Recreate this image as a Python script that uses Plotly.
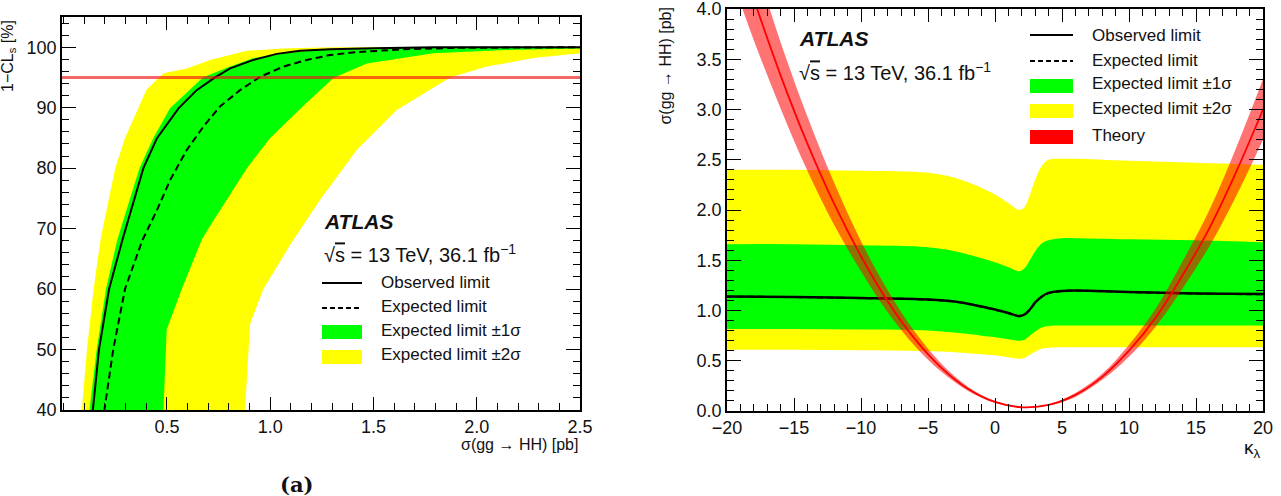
import plotly.graph_objects as go

W, H = 1281, 496
FONT = "Liberation Sans, Arial, Helvetica, sans-serif"

# ---------------- Panel (a): 1-CLs [%] versus sigma(gg->HH) [pb] ----------------
SIGMA_OBS = [0.10, 0.141, 0.171, 0.22, 0.285, 0.386, 0.451, 0.556, 0.644, 0.733, 0.806,
             0.919, 1.032, 1.145, 1.29, 1.5, 1.8, 2.5]
CLS_OBS = [26, 40, 50, 60, 68.2, 80, 84.9, 89.9, 92.9, 95.0, 96.5,
           97.9, 98.9, 99.4, 99.65, 99.85, 100, 100]

SIGMA_EXP = [0.15, 0.197, 0.24, 0.297, 0.38, 0.451, 0.515, 0.596, 0.677, 0.757, 0.854,
             0.951, 1.064, 1.177, 1.29, 1.387, 1.63, 1.9, 2.2, 2.5]
CLS_EXP = [29, 40, 50, 60, 68, 73, 78, 83, 86.9, 90.2, 92.9,
           95.1, 96.8, 97.9, 98.7, 99.1, 99.65, 99.9, 100, 100]

SIGMA_P1 = [0.06, 0.125, 0.16, 0.205, 0.26, 0.367, 0.434, 0.515, 0.674, 0.79, 0.919,
            1.064, 1.29, 1.6, 2.0, 2.5]
CLS_P1 = [10, 40, 50, 60, 68.2, 80, 85, 89.9, 95, 96.6, 98.2,
          99.0, 99.7, 99.95, 100, 100]

SIGMA_M1 = [0.46, 0.483, 0.499, 0.572, 0.669, 0.701, 0.887, 1.0, 1.17, 1.306, 1.468,
            1.79, 2.113, 2.5]
CLS_M1 = [21, 40, 53.3, 60, 68.2, 70, 80, 85, 90.6, 94.9, 97.3,
          99.0, 99.5, 99.8]

SIGMA_P2 = [0.04, 0.088, 0.113, 0.145, 0.18, 0.25, 0.297, 0.362, 0.402, 0.483, 0.596,
            0.709, 0.887, 1.06, 1.3, 2.5]
CLS_P2 = [10, 40, 50, 60, 68.5, 80, 85, 90, 93, 95.7, 96.5,
          97.9, 99.4, 99.8, 100, 100]

SIGMA_M2 = [0.85, 0.878, 0.903, 0.967, 1.10, 1.24, 1.419, 1.613, 1.871, 2.049, 2.275, 2.5]
CLS_M2 = [24, 40, 54.3, 60, 67.5, 74.7, 83.0, 89.6, 95.0, 96.8, 98.2, 99.0]

CL_LEVEL = 95
A_XRANGE = [-0.008, 2.5]
A_YRANGE = [40, 105]
A_XTICKS = [0.5, 1.0, 1.5, 2.0, 2.5]
A_XTICKTEXT = ["0.5", "1.0", "1.5", "2.0", "2.5"]
A_YTICKS = [40, 50, 60, 70, 80, 90, 100]

# ---------------- Panel (b): sigma(gg->HH) [pb] versus kappa_lambda ----------------
KAPPA = [-20, -15, -10, -5, -3, -1, 0, 1, 1.8, 2.2, 2.6, 3, 3.5, 4, 5, 6, 10, 15, 20]
LIM_OBS = [1.14, 1.135, 1.125, 1.11, 1.09, 1.04, 1.01, 0.975, 0.945, 0.96, 1.01, 1.08,
           1.14, 1.175, 1.195, 1.20, 1.185, 1.17, 1.163]
LIM_EXP = [1.138, 1.133, 1.123, 1.108, 1.088, 1.038, 1.008, 0.973, 0.943, 0.958, 1.008,
           1.078, 1.138, 1.173, 1.193, 1.198, 1.183, 1.168, 1.161]
LIM_P1 = [1.66, 1.66, 1.65, 1.63, 1.59, 1.52, 1.48, 1.43, 1.39, 1.42, 1.50, 1.59,
          1.67, 1.70, 1.72, 1.72, 1.71, 1.70, 1.68]
LIM_M1 = [0.815, 0.815, 0.81, 0.80, 0.78, 0.75, 0.735, 0.715, 0.70, 0.71, 0.75, 0.79,
          0.83, 0.845, 0.85, 0.85, 0.85, 0.85, 0.85]
LIM_P2 = [2.40, 2.40, 2.39, 2.37, 2.32, 2.22, 2.155, 2.07, 2.00, 2.03, 2.15, 2.30,
          2.44, 2.50, 2.51, 2.51, 2.49, 2.47, 2.45]
LIM_M2 = [0.61, 0.61, 0.605, 0.595, 0.585, 0.565, 0.555, 0.535, 0.52, 0.53, 0.56, 0.59,
          0.62, 0.63, 0.635, 0.635, 0.635, 0.635, 0.635]

KAPPA_TH = [-20, -18, -16, -14, -12, -10, -8, -6, -4, -2, 0, 2, 4, 6, 8, 10, 12, 14, 16, 18, 20]
TH_CENTRAL = [4.93, 4.10, 3.34, 2.66, 2.06, 1.54, 1.09, 0.72, 0.43, 0.22, 0.09, 0.037,
              0.06, 0.16, 0.34, 0.60, 0.93, 1.35, 1.82, 2.38, 3.00]
TH_UP = [5.42, 4.51, 3.67, 2.93, 2.27, 1.69, 1.20, 0.79, 0.47, 0.24, 0.10, 0.041,
         0.066, 0.18, 0.37, 0.66, 1.02, 1.49, 2.00, 2.62, 3.30]
TH_DOWN = [4.44, 3.69, 3.01, 2.39, 1.85, 1.39, 0.98, 0.65, 0.39, 0.20, 0.08, 0.033,
           0.054, 0.14, 0.31, 0.54, 0.84, 1.22, 1.64, 2.14, 2.70]

B_XRANGE = [-20, 20]
B_YRANGE = [0, 4]

GREEN = "#00ff00"
YELLOW = "#ffff00"
RED = "#ff0000"
THEORY_BAND = "rgba(255,0,0,0.55)"

fig = go.Figure()

# ---- panel (a) traces ----
fig.add_trace(go.Scatter(x=SIGMA_P2 + SIGMA_M2[::-1], y=CLS_P2 + CLS_M2[::-1],
                         fill="toself", fillcolor=YELLOW, line=dict(width=0),
                         mode="lines", xaxis="x", yaxis="y", hoverinfo="skip"))
fig.add_trace(go.Scatter(x=SIGMA_P1 + SIGMA_M1[::-1], y=CLS_P1 + CLS_M1[::-1],
                         fill="toself", fillcolor=GREEN, line=dict(width=0),
                         mode="lines", xaxis="x", yaxis="y", hoverinfo="skip"))
fig.add_trace(go.Scatter(x=SIGMA_EXP, y=CLS_EXP, mode="lines",
                         line=dict(color="black", width=2, dash="7px,4px"),
                         xaxis="x", yaxis="y"))
fig.add_trace(go.Scatter(x=SIGMA_OBS, y=CLS_OBS, mode="lines",
                         line=dict(color="black", width=2),
                         xaxis="x", yaxis="y"))
fig.add_trace(go.Scatter(x=A_XRANGE, y=[CL_LEVEL, CL_LEVEL], mode="lines",
                         line=dict(color="rgba(240,20,20,0.65)", width=3),
                         xaxis="x", yaxis="y"))

# ---- panel (b) traces ----
fig.add_trace(go.Scatter(x=KAPPA, y=LIM_M2, mode="lines", line=dict(width=0, shape="spline"),
                         xaxis="x2", yaxis="y2", hoverinfo="skip"))
fig.add_trace(go.Scatter(x=KAPPA, y=LIM_P2, mode="lines", line=dict(width=0, shape="spline"),
                         fill="tonexty", fillcolor=YELLOW, xaxis="x2", yaxis="y2"))
fig.add_trace(go.Scatter(x=KAPPA, y=LIM_M1, mode="lines", line=dict(width=0, shape="spline"),
                         xaxis="x2", yaxis="y2", hoverinfo="skip"))
fig.add_trace(go.Scatter(x=KAPPA, y=LIM_P1, mode="lines", line=dict(width=0, shape="spline"),
                         fill="tonexty", fillcolor=GREEN, xaxis="x2", yaxis="y2"))
fig.add_trace(go.Scatter(x=KAPPA, y=LIM_EXP, mode="lines",
                         line=dict(color="black", width=2, dash="6px,4px", shape="spline"),
                         xaxis="x2", yaxis="y2"))
fig.add_trace(go.Scatter(x=KAPPA, y=LIM_OBS, mode="lines",
                         line=dict(color="black", width=2.5, shape="spline"),
                         xaxis="x2", yaxis="y2"))
fig.add_trace(go.Scatter(x=KAPPA_TH, y=TH_DOWN, mode="lines", line=dict(width=0, shape="spline"),
                         xaxis="x2", yaxis="y2", hoverinfo="skip"))
fig.add_trace(go.Scatter(x=KAPPA_TH, y=TH_UP, mode="lines", line=dict(width=0, shape="spline"),
                         fill="tonexty", fillcolor=THEORY_BAND, xaxis="x2", yaxis="y2"))
fig.add_trace(go.Scatter(x=KAPPA_TH, y=TH_CENTRAL, mode="lines",
                         line=dict(color=RED, width=1.8, shape="spline"),
                         xaxis="x2", yaxis="y2"))


def px_x(x):
    return x / W


def px_y(y):
    return 1 - y / H


axis_common = dict(showline=True, linecolor="black", linewidth=1.5, mirror="ticks",
                   ticks="inside", tickcolor="black", tickwidth=1, showgrid=False,
                   zeroline=False, automargin=False, ticklabeloverflow="allow",
                   tickfont=dict(family=FONT, size=18, color="#111"))

fig.update_layout(
    width=W, height=H, margin=dict(l=0, r=0, t=0, b=0, pad=0), autosize=False,
    paper_bgcolor="white", plot_bgcolor="white", showlegend=False,
    xaxis=dict(domain=[px_x(62), px_x(580)], range=A_XRANGE, anchor="y",
               tickmode="array", tickvals=A_XTICKS, ticktext=A_XTICKTEXT, ticklen=13,
               minor=dict(ticks="inside", ticklen=7, dtick=0.1, tick0=0, tickcolor="black"),
               **axis_common),
    yaxis=dict(domain=[px_y(410), px_y(17)], range=A_YRANGE, anchor="x",
               tickmode="array", tickvals=A_YTICKS, ticklen=14,
               minor=dict(ticks="inside", ticklen=7, dtick=2, tick0=0, tickcolor="black"),
               **axis_common),
    xaxis2=dict(domain=[px_x(727), px_x(1263)], range=B_XRANGE, anchor="y2",
                dtick=5, tick0=0, ticklen=13,
                minor=dict(ticks="inside", ticklen=7, dtick=1, tick0=0, tickcolor="black"),
                **axis_common),
    yaxis2=dict(domain=[px_y(411), px_y(9)], range=B_YRANGE, anchor="x2",
                dtick=0.5, tick0=0, tickformat=".1f", ticklen=14,
                minor=dict(ticks="inside", ticklen=7, dtick=0.1, tick0=0, tickcolor="black"),
                **axis_common),
)

annotations = []
shapes = []


def text(t, x, y, size, xanchor="left", yanchor="middle", angle=0, family=FONT,
         color="#111"):
    annotations.append(dict(text=t, x=px_x(x), y=px_y(y), xref="paper", yref="paper",
                            xanchor=xanchor, yanchor=yanchor, textangle=angle,
                            showarrow=False, font=dict(family=family, size=size, color=color)))


def key_line(x0, x1, y, dash="solid"):
    shapes.append(dict(type="line", xref="paper", yref="paper", x0=px_x(x0), x1=px_x(x1),
                       y0=px_y(y), y1=px_y(y), line=dict(color="black", width=2, dash=dash)))


def key_box(x0, x1, yc, h, color):
    shapes.append(dict(type="rect", xref="paper", yref="paper", x0=px_x(x0), x1=px_x(x1),
                       y0=px_y(yc + h / 2), y1=px_y(yc - h / 2), fillcolor=color,
                       line=dict(width=0)))


SQRTS = "√<span style='text-decoration:overline'>s</span> = 13 TeV, 36.1 fb<sup>−1</sup>"

# panel (a) texts
text("<b><i>ATLAS</i></b>", 322, 222, 21)
text(SQRTS, 322, 253, 20)
key_line(322, 362, 283)
key_line(322, 362, 308, dash="5px,3px")
key_box(322, 362, 332, 14, GREEN)
key_box(322, 362, 357, 14, YELLOW)
text("Observed limit", 379, 282, 17)
text("Expected limit", 379, 306, 17)
text("Expected limit ±1σ", 379, 330, 17)
text("Expected limit ±2σ", 379, 354, 17)
text("σ(gg → HH) [pb]", 580, 444, 16, xanchor="right")
text("1−CL<sub>s</sub> [%]", 9, 18, 16, xanchor="center", yanchor="top", angle=-90)
text("<b>(a)</b>", 296, 484, 21, xanchor="center", family="DejaVu Serif, serif")

# panel (b) texts
text("<b><i>ATLAS</i></b>", 797, 38, 21)
text(SQRTS, 797, 71, 20)
key_line(1030, 1073, 35)
key_line(1030, 1073, 61, dash="5px,3px")
key_box(1030, 1073, 86, 14, GREEN)
key_box(1030, 1073, 111, 14, YELLOW)
key_box(1030, 1073, 137, 14, RED)
text("Observed limit", 1090, 35, 17)
text("Expected limit", 1090, 60, 17)
text("Expected limit ±1σ", 1090, 84, 17)
text("Expected limit ±2σ", 1090, 109, 17)
text("Theory", 1090, 135, 17)
text("σ(gg → HH) [pb]", 665, 6, 16, xanchor="center", yanchor="top", angle=-90)
text("κ<sub>λ</sub>", 1263, 449, 19, xanchor="right")

fig.update_layout(annotations=annotations, shapes=shapes)
fig.write_html("out.html")
